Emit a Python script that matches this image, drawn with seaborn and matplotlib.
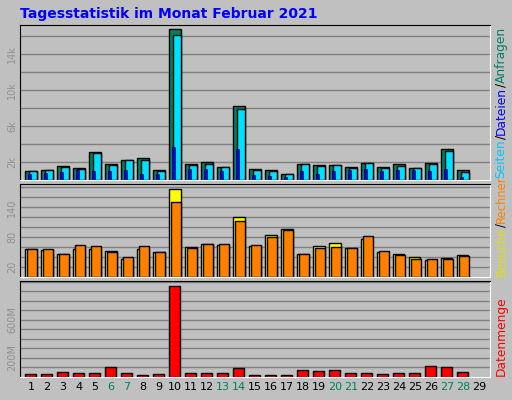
import numpy as np
import pandas as pd
import matplotlib
matplotlib.use('Agg')
import matplotlib.pyplot as plt
import seaborn as sns

days = list(range(1, 29))
weekend = [6, 7, 13, 14, 20, 21, 27, 28]
anfragen = [1.0, 1.1, 1.6, 1.35, 3.1, 1.8, 2.25, 2.45, 1.1, 16.8, 1.8, 2.0, 1.45, 8.2,
            1.25, 1.1, 0.7, 1.8, 1.7, 1.7, 1.45, 1.9, 1.45, 1.8, 1.35, 1.9, 3.45, 1.1]
dateien = [1.0, 1.1, 1.45, 1.2, 3.0, 1.65, 2.25, 2.3, 1.0, 16.1, 1.65, 1.75, 1.45, 7.95,
           1.1, 1.0, 0.7, 1.8, 1.55, 1.7, 1.35, 1.9, 1.35, 1.6, 1.35, 1.75, 3.25, 0.9]
seiten = [0.7, 0.8, 0.9, 1.15, 1.0, 1.0, 1.15, 0.7, 0.7, 3.7, 1.25, 1.25, 1.0, 3.45,
          0.6, 0.5, 0.4, 1.0, 0.7, 1.0, 1.15, 1.25, 1.0, 1.15, 1.15, 1.0, 1.25, 0.35]
besuche = [57, 55, 47, 57, 57, 53, 37, 57, 51, 177, 61, 67, 65, 121,
           63, 85, 97, 47, 63, 69, 59, 77, 51, 47, 41, 35, 39, 45]
rechner = [57, 57, 47, 65, 63, 51, 41, 63, 51, 151, 59, 67, 67, 113,
           65, 81, 95, 47, 59, 61, 59, 83, 53, 45, 37, 37, 37, 43]
datenmenge = [28, 28, 49, 39, 39, 102, 39, 18, 28, 955, 39, 39, 39, 91,
              18, 18, 18, 70, 60, 70, 39, 39, 28, 39, 39, 112, 102, 49]

BG = '#C0C0C0'
sns.set_style('white')
plt.rcParams['font.family'] = ['DejaVu Sans']

fig = plt.figure(figsize=(5.12, 4.0), dpi=100, facecolor=BG)
W, H = 512, 400
x = np.array(days, dtype=float)
XL = (0.31, 29.69)


def panel(top, bottom):
    ax = fig.add_axes([20 / W, 1 - bottom / H, 470 / W, (bottom - top) / H])
    ax.set_facecolor(BG)
    for s in ['top', 'left']:
        ax.spines[s].set_color('black')
    for s in ['bottom', 'right']:
        ax.spines[s].set_color('white')
    ax.grid(axis='y', color='#808080', linewidth=1)
    ax.set_axisbelow(True)
    ax.tick_params(axis='y', length=0, labelsize=7, labelcolor='#909090', labelrotation=90, pad=2)
    ax.tick_params(axis='x', length=0)
    return ax


def bars(ax, pos, vals, color, width, lw=1.0):
    df = pd.DataFrame({'x': pos, 'y': vals})
    sns.barplot(data=df, x='x', y='y', native_scale=True, width=width, color=color,
                edgecolor='black', linewidth=lw, saturation=1, ax=ax)
    ax.set_xlabel('')
    ax.set_ylabel('')


# Anfragen / Dateien / Seiten
ax1 = panel(25, 180.3)
bars(ax1, x, anfragen, '#008060', 0.75)
bars(ax1, x + 0.14, dateien, '#00E0FF', 0.5)
bars(ax1, x - 0.1, seiten, '#0000FF', 0.16, lw=0.4)
ax1.set_ylim(0, 17.2)
ax1.set_yticks(np.arange(2, 17, 2))
ax1.set_yticklabels(['2k', '', '6k', '', '10k', '', '14k', ''], va='center')
ax1.set_xticks([])
ax1.set_xlim(*XL)

# Besuche / Rechner
ax2 = panel(184, 277.3)
bars(ax2, x - 0.02, besuche, '#FFFF00', 0.73)
bars(ax2, x + 0.08, rechner, '#FF8000', 0.62)
ax2.set_ylim(0, 186.7)
ax2.set_yticks(np.arange(20, 181, 20))
ax2.set_yticklabels([str(v) if v in (20, 80, 140) else '' for v in range(20, 181, 20)], va='center')
ax2.set_xticks([])
ax2.set_xlim(*XL)

# Datenmenge
ax3 = panel(280.7, 376.7)
bars(ax3, x - 0.02, datenmenge, '#FF0000', 0.67)
ax3.set_ylim(0, 1010)
ax3.set_yticks(np.arange(100, 1001, 100))
ax3.set_yticklabels(['200M' if v == 200 else '600M' if v == 600 else '' for v in range(100, 1001, 100)],
                    va='center')
ax3.set_xlim(*XL)
ax3.set_xticks(list(range(1, 30)))
ax3.set_xticklabels([str(d) for d in range(1, 30)], fontsize=8)
for lab, d in zip(ax3.get_xticklabels(), range(1, 30)):
    lab.set_color('#008060' if d in weekend else 'black')
ax3.tick_params(axis='x', pad=4)

fig.text(20 / W, 1 - 14 / H, 'Tagesstatistik im Monat Februar 2021', color='#0000FF',
         fontsize=10, fontweight='bold', va='center')

# rechte Beschriftungen aus farbigen Teilen
fig.canvas.draw()
r = fig.canvas.get_renderer()


def stacked(parts, xpix, ybottom, size):
    y = ybottom
    for txt, col in parts:
        t = fig.text(xpix / W, 1 - y / H, txt, color=col, rotation=90, fontsize=size,
                     ha='center', va='bottom')
        y -= t.get_window_extent(r).height
    return y


stacked([('Seiten', '#00C8FF'), ('/', 'black'), ('Dateien', '#0000FF'), ('/', 'black'),
         ('Anfragen', '#008060')], 501, 178, 8.8)
stacked([('Besuche', '#E0E000'), ('/', 'black'), ('Rechner', '#FF8000')], 501, 276, 8.3)
stacked([('Datenmenge', '#FF0000')], 501, 376, 8.8)

fig.savefig('out.png', dpi=100, facecolor=BG)
